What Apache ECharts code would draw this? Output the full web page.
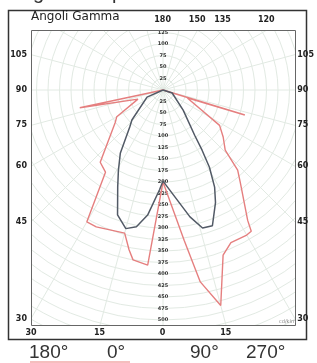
<!DOCTYPE html>
<html><head><meta charset="utf-8">
<script src="https://cdn.jsdelivr.net/npm/echarts@6/dist/echarts.min.js"></script>
<style>html,body{margin:0;padding:0;background:#fff}#c{width:317px;height:363px}</style>
</head><body><div id="c"></div>
<script>
// Gamma angles: positive = left half-plane, negative = right half-plane (cd/klm)
const redGamma = [180, 78, 70, 60, 56, 41, 35, 30, 26, 15, 12, 10, 5, 0, -8, -11, -15, -20, -24, -30, -32, -33, -40, -43, -46, -52, -58, -72, -73, -180];
const redCd    = [0, 185, 58, 116, 125, 208, 218, 331, 331, 322, 355, 375, 382, 200, 330, 425, 485, 382, 363, 364, 362, 338, 261, 238, 188, 166, 145, 55, 186, 0];
const greyGamma = [180, 66, 46, 42, 34, 29, 25, 20, 15, 11, 7, 2, 0, -12, -16, -20, -25, -28, -31, -33, -35, -45, -72, -180];
const greyCd    = [0, 38, 94, 108, 166, 200, 233, 289, 312, 303, 274, 217, 198, 282, 312, 314, 270, 239, 196, 156, 120, 62, 21, 0];
const sideLabels = [105, 90, 75, 60, 45, 30];
const topLabels = [180, 150, 135, 120];
const bottomLabels = [-30, -15, 0, 15];
const legendTexts = ['180°', '0°', '90°', '270°'];

const toPolar = (g, r) => g.map((a, i) => [r[i], a]);
const rad = d => d * Math.PI / 180;
// cartesian frame in pixel-like units, origin at polar centre
const X0 = -132, X1 = 133, Y0 = -236, Y1 = 60;
const clamp = (v, a, b) => Math.max(a, Math.min(b, v));
const r2 = v => Math.round(v * 100) / 100;
const sideMap = {}, topMap = {}, botMap = {};
const sideVals = sideLabels.map(g => { const v = r2(clamp(-(-X0) * Math.cos(rad(g)) / Math.sin(rad(g)), Y0, Y1)); sideMap[v] = String(g); return v; });
const topVals = topLabels.map(g => { const v = r2(clamp(-Y1 * Math.sin(rad(g)) / Math.cos(rad(g)), X0, X1)); topMap[v] = String(g); return v; });
const botVals = bottomLabels.map(g => { const v = r2(clamp(-Y0 * Math.tan(rad(g)), X0, X1)); botMap[v] = String(Math.abs(g)); return v; });

const gridCol = '#e2eae3';
const lblStyle = { fontSize: 8, fontWeight: 'bold', color: '#222', fontFamily: 'DejaVu Sans' };
const radLbl = { show: true, showMinLabel: false, fontSize: 5, fontWeight: 'bold', color: '#333', margin: 0, align: 'center', verticalAlign: 'middle', fontFamily: 'DejaVu Sans' };
const chart = echarts.init(document.getElementById('c'), null, { renderer: 'canvas' });
chart.setOption({
  animation: false,
  backgroundColor: '#fff',
  polar: [{ center: [163, 90], radius: 276 }, { center: [163, 90], radius: 276 }],
  angleAxis: [
    { polarIndex: 0, type: 'value', min: -180, max: 180, interval: 15, startAngle: 90, clockwise: true,
      axisLine: { show: false }, axisTick: { show: false }, axisLabel: { show: false },
      splitLine: { show: true, lineStyle: { color: gridCol, width: 1 } } },
    { polarIndex: 1, type: 'value', min: -180, max: 180, interval: 15, startAngle: 270, clockwise: true,
      axisLine: { show: false }, axisTick: { show: false }, axisLabel: { show: false }, splitLine: { show: false } }
  ],
  radiusAxis: [
    { polarIndex: 0, type: 'value', min: 0, max: 600, interval: 25,
      axisLine: { show: false }, axisTick: { show: false }, axisLabel: radLbl,
      splitLine: { show: true, lineStyle: { color: gridCol, width: 1 } } },
    { polarIndex: 1, type: 'value', min: 0, max: 600, interval: 25,
      axisLine: { show: false }, axisTick: { show: false }, axisLabel: radLbl,
      splitLine: { show: false } }
  ],
  grid: { left: 31, top: 30, width: 265, height: 296, show: false },
  xAxis: [
    { type: 'value', position: 'bottom', min: X0, max: X1, z: 70,
      axisLine: { show: false }, axisTick: { show: false }, splitLine: { show: false },
      axisLabel: Object.assign({ customValues: botVals, margin: 3, formatter: v => botMap[r2(v)] || '' }, lblStyle) },
    { type: 'value', position: 'top', min: X0, max: X1, z: 70,
      axisLine: { show: false }, axisTick: { show: false }, splitLine: { show: false },
      axisLabel: Object.assign({ customValues: topVals, margin: 6, formatter: v => topMap[r2(v)] || '' }, lblStyle) }
  ],
  yAxis: [
    { type: 'value', position: 'left', min: Y0, max: Y1, z: 70,
      axisLine: { show: false }, axisTick: { show: false }, splitLine: { show: false },
      axisLabel: Object.assign({ customValues: sideVals, margin: 4, formatter: v => sideMap[r2(v)] || '' }, lblStyle) },
    { type: 'value', position: 'right', min: Y0, max: Y1, z: 70,
      axisLine: { show: false }, axisTick: { show: false }, splitLine: { show: false },
      axisLabel: Object.assign({ customValues: sideVals, margin: 2, formatter: v => sideMap[r2(v)] || '' }, lblStyle) }
  ],
  series: [
    { name: '180° - 0°', type: 'line', coordinateSystem: 'polar', polarIndex: 0, data: toPolar(redGamma, redCd),
      symbol: 'none', smooth: false, clip: false, lineStyle: { color: '#e57f7f', width: 1.4 }, z: 3 },
    { name: '90° - 270°', type: 'line', coordinateSystem: 'polar', polarIndex: 0, data: toPolar(greyGamma, greyCd),
      symbol: 'none', smooth: false, clip: false, lineStyle: { color: '#525a66', width: 1.5 }, z: 4 }
  ],
  graphic: [
    { type: 'rect', z: 50, shape: { x: 0, y: 0, width: 317, height: 30 }, style: { fill: '#fff' }, silent: true },
    { type: 'rect', z: 50, shape: { x: 0, y: 326, width: 317, height: 37 }, style: { fill: '#fff' }, silent: true },
    { type: 'rect', z: 50, shape: { x: 0, y: 30, width: 31, height: 296 }, style: { fill: '#fff' }, silent: true },
    { type: 'rect', z: 50, shape: { x: 296, y: 30, width: 21, height: 296 }, style: { fill: '#fff' }, silent: true },
    { type: 'rect', z: 60, shape: { x: 8.5, y: 10.5, width: 298, height: 329 }, style: { fill: 'none', stroke: '#333', lineWidth: 1.5 }, silent: true },
    { type: 'rect', z: 60, shape: { x: 31.5, y: 30.5, width: 264, height: 295 }, style: { fill: 'none', stroke: '#666', lineWidth: 1 }, silent: true },
    { type: 'text', z: 60, left: 31, top: 11, style: { text: 'Angoli Gamma', fontSize: 12, fill: '#222', fontFamily: 'DejaVu Sans' } },
    { type: 'text', z: 60, left: 279, top: 319, style: { text: 'cd/klm', fontSize: 5, fill: '#888', fontFamily: 'DejaVu Sans' } },
    { type: 'text', z: 60, left: 3, top: -17, style: { text: 'Diagramma polare', fontSize: 20, fill: '#333', fontFamily: 'Liberation Sans' } },
    { type: 'text', z: 60, left: 29, top: 343, style: { text: legendTexts[0], fontSize: 19, fill: '#333', fontFamily: 'Liberation Sans' } },
    { type: 'text', z: 60, left: 107, top: 343, style: { text: legendTexts[1], fontSize: 19, fill: '#333', fontFamily: 'Liberation Sans' } },
    { type: 'text', z: 60, left: 190, top: 343, style: { text: legendTexts[2], fontSize: 19, fill: '#333', fontFamily: 'Liberation Sans' } },
    { type: 'text', z: 60, left: 246, top: 343, style: { text: legendTexts[3], fontSize: 19, fill: '#333', fontFamily: 'Liberation Sans' } },
    { type: 'line', z: 60, shape: { x1: 30, y1: 362, x2: 130, y2: 362 }, style: { stroke: '#f2a8a8', lineWidth: 1.5 } }
  ]
});
</script></body></html>
